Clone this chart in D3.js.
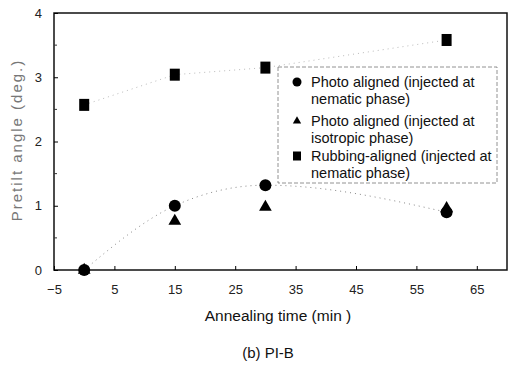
<!DOCTYPE html>
<html>
<head>
<meta charset="utf-8">
<script src="https://cdn.jsdelivr.net/npm/d3@7"></script>
<style>
  body { margin: 0; background: #fff; }
  svg { display: block; font-family: "Liberation Sans", Arial, sans-serif; }
</style>
</head>
<body>
<svg id="chart" width="517" height="366"></svg>
<script>
const times = [0, 15, 30, 60];
const photoNematic = [0, 1.0, 1.32, 0.9];
const photoIsotropic = [0, 0.76, 0.98, 0.96];
const rubbingNematic = [2.57, 3.04, 3.15, 3.58];
const xTicks = [-5, 5, 15, 25, 35, 45, 55, 65];
const yTicks = [0, 1, 2, 3, 4];
const legendLines = [
  ["Photo  aligned (injected at", "nematic phase)"],
  ["Photo  aligned (injected at", "isotropic phase)"],
  ["Rubbing-aligned (injected at", "nematic phase)"]
];

const svg = d3.select("#chart");
const plotL = 54, plotR = 507, plotT = 13, plotB = 270;

const x = d3.scaleLinear().domain([-5, 70]).range([plotL, plotR]);
const y = d3.scaleLinear().domain([0, 4]).range([plotB, plotT]);

// frame
svg.append("rect")
  .attr("x", plotL).attr("y", plotT)
  .attr("width", plotR - plotL).attr("height", plotB - plotT)
  .attr("fill", "none").attr("stroke", "#111").attr("stroke-width", 1.5);

// axes (ticks inward)
svg.append("g")
  .attr("transform", `translate(0,${plotB})`)
  .call(d3.axisBottom(x).tickValues(xTicks).tickSize(-4).tickPadding(15).tickFormat(d3.format("d")))
  .call(g => g.select(".domain").remove())
  .call(g => g.selectAll("text").attr("font-size", 13).attr("fill", "#222"));

svg.append("g")
  .attr("transform", `translate(${plotL},0)`)
  .call(d3.axisLeft(y).tickValues(yTicks).tickSize(-4).tickPadding(12).tickFormat(d3.format("d")))
  .call(g => g.select(".domain").remove())
  .call(g => g.selectAll("text").attr("font-size", 13).attr("fill", "#222"));

// minor y ticks
svg.append("g").selectAll("line")
  .data([0.5, 1.5, 2.5, 3.5])
  .join("line")
  .attr("x1", plotL).attr("x2", plotL + 3)
  .attr("y1", d => y(d)).attr("y2", d => y(d))
  .attr("stroke", "#333");

// fitted curves
const pts = series => times.map((t, i) => [x(t), y(series[i])]);

svg.append("path")
  .attr("d", d3.line().curve(d3.curveMonotoneX)(pts(photoNematic)))
  .attr("fill", "none").attr("stroke", "#888").attr("stroke-width", 1)
  .attr("stroke-dasharray", "1,4");

svg.append("path")
  .attr("d", d3.line()(pts(rubbingNematic)))
  .attr("fill", "none").attr("stroke", "#bbb").attr("stroke-width", 1)
  .attr("stroke-dasharray", "1,4");

// markers
const triangle = d3.symbol().type(d3.symbolTriangle).size(70);

svg.append("g").selectAll("path")
  .data(times.map((t, i) => [t, photoIsotropic[i]]))
  .join("path")
  .attr("d", triangle)
  .attr("transform", d => `translate(${x(d[0])},${y(d[1])})`)
  .attr("fill", "#000");

svg.append("g").selectAll("circle")
  .data(times.map((t, i) => [t, photoNematic[i]]))
  .join("circle")
  .attr("cx", d => x(d[0])).attr("cy", d => y(d[1]))
  .attr("r", 6).attr("fill", "#000");

svg.append("g").selectAll("rect")
  .data(times.map((t, i) => [t, rubbingNematic[i]]))
  .join("rect")
  .attr("x", d => x(d[0]) - 5).attr("y", d => y(d[1]) - 6)
  .attr("width", 10).attr("height", 12).attr("fill", "#000");

// legend
const lg = svg.append("g").attr("transform", "translate(278,67)");
lg.append("rect")
  .attr("width", 219).attr("height", 116)
  .attr("fill", "#fff").attr("stroke", "#777").attr("stroke-width", 0.8)
  .attr("stroke-dasharray", "4,2");

const rowY = [15, 54, 89];
const marks = [
  g => g.append("circle").attr("r", 4.5).attr("fill", "#000"),
  g => g.append("path").attr("d", d3.symbol().type(d3.symbolTriangle).size(30)).attr("fill", "#000"),
  g => g.append("rect").attr("x", -4).attr("y", -4.5).attr("width", 8).attr("height", 9).attr("fill", "#000")
];
legendLines.forEach((lines, i) => {
  const m = lg.append("g").attr("transform", `translate(19,${rowY[i]})`);
  marks[i](m);
  lines.forEach((txt, j) => {
    lg.append("text")
      .attr("x", 33).attr("y", rowY[i] + 5 + j * 17)
      .attr("font-size", 14.5).attr("fill", "#111")
      .text(txt);
  });
});

// axis titles
svg.append("text")
  .attr("x", 278).attr("y", 321)
  .attr("text-anchor", "middle").attr("font-size", 15.5).attr("fill", "#111")
  .text("Annealing time (min )");

svg.append("text")
  .attr("transform", "translate(22,140) rotate(-90)")
  .attr("text-anchor", "middle").attr("font-size", 15).attr("fill", "#777")
  .attr("letter-spacing", 2)
  .text("Pretilt angle (deg.)");

svg.append("text")
  .attr("x", 268).attr("y", 358)
  .attr("text-anchor", "middle").attr("font-size", 15).attr("fill", "#111")
  .text("(b) PI-B");
</script>
</body>
</html>
